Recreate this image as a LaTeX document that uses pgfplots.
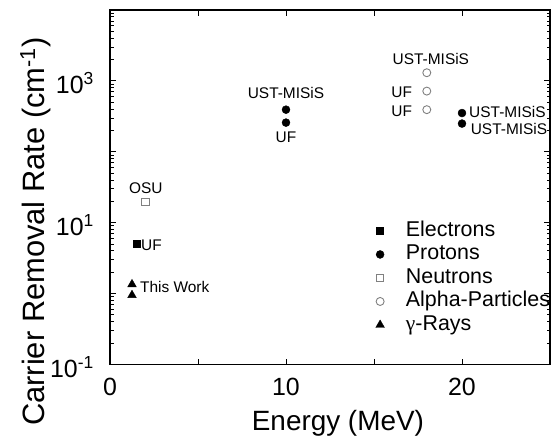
\documentclass[border=0pt]{standalone}
\usepackage{fontspec}
\setmainfont{Liberation Sans}
\newfontfamily\seriffont{Liberation Serif}
\usepackage{pgfplots}
\pgfplotsset{compat=1.18}
\definecolor{mgray}{gray}{0.5}
\newcommand\annf{\fontsize{15.5}{18}\selectfont}
\begin{document}
\begin{tikzpicture}
\path[use as bounding box] (0,0) rectangle (556bp,438bp);
\begin{axis}[
  at={(110bp,73.5bp)}, anchor=south west,
  scale only axis, width=440bp, height=354.5bp,
  xmin=0, xmax=25, ymode=log, ymin=0.1, ymax=10000,
  axis line style={line width=1.1bp},
  every tick/.style={black, line width=0.9bp},
  major tick length=6bp, minor tick length=3.5bp,
  xtick={0,5,10,15,20,25}, xticklabels={0,,10,,20,},
  ytick={0.1,1,10,100,1000,10000},
  yticklabels={10\textsuperscript{-1},,10\textsuperscript{1},,10\textsuperscript{3},},
  minor ytick={0.2,0.3,0.4,0.5,0.6,0.7,0.8,0.9,2,3,4,5,6,7,8,9,20,30,40,50,60,70,80,90,200,300,400,500,600,700,800,900,2000,3000,4000,5000,6000,7000,8000,9000},
  ticklabel style={font=\fontsize{25}{30}\selectfont},
  xticklabel style={anchor=base, inner sep=0pt, yshift=-30.5bp},
  yticklabel style={anchor=base east, inner sep=0pt, xshift=-16bp, yshift=-12.6bp},
  xlabel={Energy (MeV)},
  ylabel={Carrier Removal Rate (cm\textsuperscript{-1})},
  xlabel style={font=\fontsize{28}{32}\selectfont, at={(rel axis cs:0.518,-0.1848)}, anchor=base},
  ylabel style={font=\fontsize{31}{36}\selectfont, at={(rel axis cs:-0.15,0.375)}, anchor=base},
  legend cell align=left,
  legend style={draw=none, fill=none, inner sep=0pt, at={(rel axis cs:0.6036,0.4076)}, anchor=north west,
    font=\fontsize{21.5}{24}\selectfont, row sep=2bp,
    nodes={inner sep=1bp, text height=15bp, text depth=4.5bp},
    /tikz/every odd column/.append style={column sep=20.5bp}},
]
\addplot[only marks, mark=square*, mark size=3.5bp, black] coordinates {(1.5,5)};
\addplot[only marks, mark=*, mark size=4bp, black] coordinates {(10,393) (10,258) (20,352) (20,250)};
\addplot[only marks, mark=square, mark size=3.8bp, mgray, mark options={line width=0.9bp}] coordinates {(2,19.6)};
\addplot[only marks, mark=o, mark size=4bp, mgray, mark options={line width=0.9bp}] coordinates {(18,1304) (18,718) (18,393)};
\addplot[only marks, mark=triangle*, mark size=5bp, black] coordinates {(1.25,1.35) (1.25,0.95)};
\legend{Electrons,Protons,Neutrons,Alpha-Particles,{\seriffont γ}-Rays}
\node[font=\annf, anchor=center] at (axis cs:2.04,30.6) {OSU};
\node[font=\annf, anchor=west, inner sep=0pt] at (axis cs:1.76,4.82) {UF};
\node[font=\annf, anchor=west, inner sep=0pt] at (axis cs:1.70,1.22) {This Work};
\node[font=\annf, anchor=center] at (axis cs:10,667) {UST-MISiS};
\node[font=\annf, anchor=center] at (axis cs:10,160) {UF};
\node[font=\annf, anchor=center] at (axis cs:18.23,2010) {UST-MISiS};
\node[font=\annf, anchor=east, inner sep=0pt] at (axis cs:17.17,695) {UF};
\node[font=\annf, anchor=east, inner sep=0pt] at (axis cs:17.17,376) {UF};
\node[font=\annf, anchor=west, inner sep=0pt] at (axis cs:20.40,364) {UST-MISiS};
\node[font=\annf, anchor=west, inner sep=0pt] at (axis cs:20.49,212) {UST-MISiS};
\end{axis}
\end{tikzpicture}
\end{document}
